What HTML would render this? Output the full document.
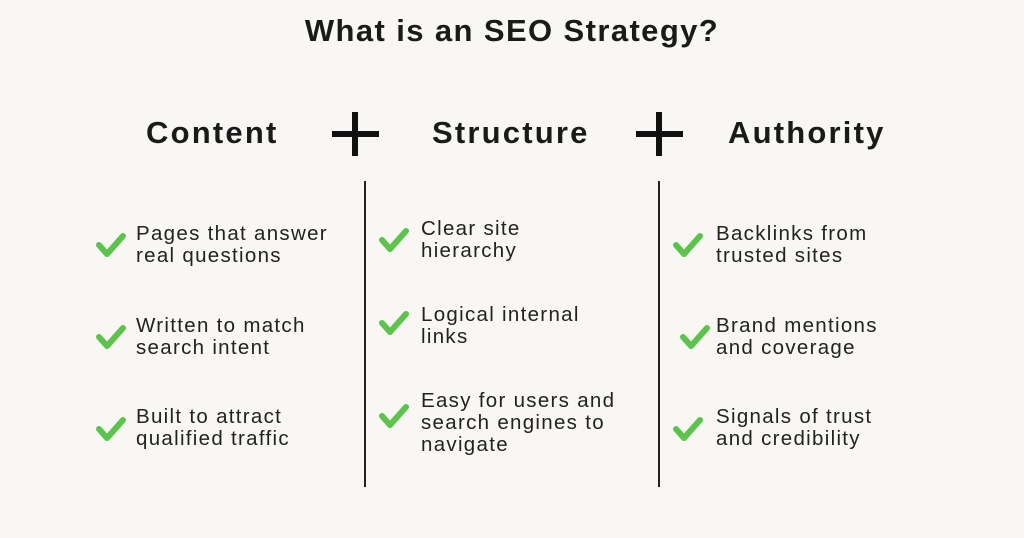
<!DOCTYPE html>
<html><head><style>
body{margin:0;width:1024px;height:538px;background:#f8f7f4;position:relative;overflow:hidden;font-family:"Liberation Sans",sans-serif;color:#1a1a1a}
.a{position:absolute;white-space:nowrap}
.t{font-weight:bold;font-size:31px;letter-spacing:1.4px;left:0;width:1024px;text-align:center;top:13px}
.h{font-weight:bold;font-size:31px;letter-spacing:2.2px;top:115px}
.i{font-size:20.5px;letter-spacing:1.3px;line-height:22px;color:#222}
.pv{position:absolute;background:#111}
.ln{position:absolute;width:2px;background:#222;top:181px;height:306px}
svg{position:absolute}
</style></head><body>
<div class="a t">What is an SEO Strategy?</div>
<div class="a h" style="left:146px">Content</div>
<div class="a h" style="left:432px">Structure</div>
<div class="a h" style="left:728px">Authority</div>
<div class="pv" style="left:332px;top:131px;width:47px;height:6px"></div>
<div class="pv" style="left:352px;top:112px;width:6px;height:44px"></div>
<div class="pv" style="left:636px;top:131px;width:47px;height:6px"></div>
<div class="pv" style="left:656px;top:112px;width:6px;height:44px"></div>
<div class="ln" style="left:364px"></div>
<div class="ln" style="left:658px"></div>

<svg width="1024" height="538" style="left:0;top:0">
<g fill="none" stroke="#5cc34c" stroke-width="6" stroke-linecap="round" stroke-linejoin="round">
<path d="M99,245 l8,9 l16,-18"/>
<path d="M99,337 l8,9 l16,-18"/>
<path d="M99,429 l8,9 l16,-18"/>
<path d="M382,240 l8,9 l16,-18"/>
<path d="M382,323 l8,9 l16,-18"/>
<path d="M382,416 l8,9 l16,-18"/>
<path d="M676,245 l8,9 l16,-18"/>
<path d="M683,337 l8,9 l16,-18"/>
<path d="M676,429 l8,9 l16,-18"/>
</g></svg>

<div class="a i" style="left:136px;top:223px">Pages that answer<br>real questions</div>
<div class="a i" style="left:136px;top:315px">Written to match<br>search intent</div>
<div class="a i" style="left:136px;top:406px">Built to attract<br>qualified traffic</div>
<div class="a i" style="left:421px;top:218px">Clear site<br>hierarchy</div>
<div class="a i" style="left:421px;top:304px">Logical internal<br>links</div>
<div class="a i" style="left:421px;top:390px">Easy for users and<br>search engines to<br>navigate</div>
<div class="a i" style="left:716px;top:223px">Backlinks from<br>trusted sites</div>
<div class="a i" style="left:716px;top:315px">Brand mentions<br>and coverage</div>
<div class="a i" style="left:716px;top:406px">Signals of trust<br>and credibility</div>
</body></html>
